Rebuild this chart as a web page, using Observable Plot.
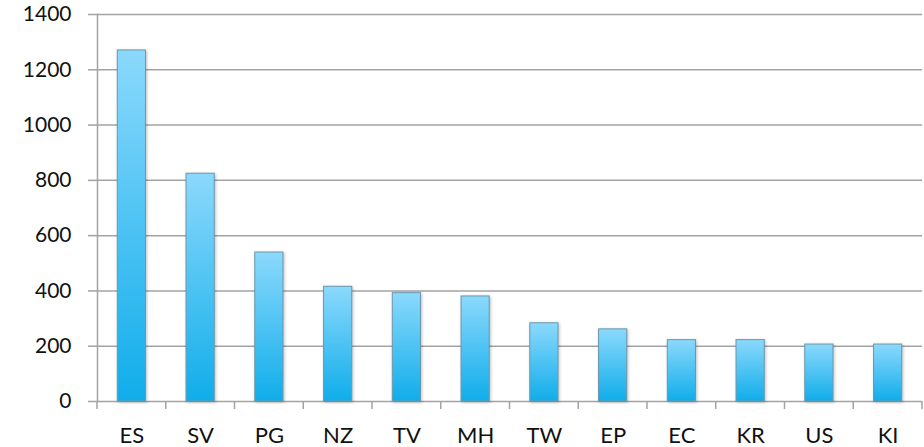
<!DOCTYPE html>
<html>
<head>
<meta charset="utf-8">
<script src="https://cdn.jsdelivr.net/npm/d3@7"></script>
<script src="https://cdn.jsdelivr.net/npm/@observablehq/plot@0.6"></script>
<style>
  html, body { margin: 0; padding: 0; background: #fff; }
  #chart svg { display: block; }
</style>
</head>
<body>
<div id="chart"></div>
<script>
const categories = ["ES", "SV", "PG", "NZ", "TV", "MH", "TW", "EP", "EC", "KR", "US", "KI"];
const values = [1270, 824, 539, 415, 392, 380, 283, 261, 222, 222, 206, 206];
const yTicks = [0, 200, 400, 600, 800, 1000, 1200, 1400];

const data = categories.map((c, i) => ({category: c, value: values[i]}));

const gridColor = "#a3a3a3";

// Band boundary tick marks below the x axis (from the band scale)
const boundaryTicks = (index, scales, vals, dimensions) => {
  const x = scales.x;
  const bw = typeof x.bandwidth === "function" ? x.bandwidth() : (x.bandwidth || 0);
  const step = typeof x.step === "function" ? x.step() : (x(categories[1]) - x(categories[0]));
  const y0 = dimensions.height - dimensions.marginBottom;
  const g = d3.create("svg:g").attr("stroke", gridColor).attr("stroke-width", 1.5);
  const positions = categories.map(c => x(c) - (step - bw) / 2);
  positions.push(x(categories[categories.length - 1]) + bw + (step - bw) / 2);
  for (const px of positions) {
    if (!isFinite(px)) continue;
    g.append("line").attr("x1", px).attr("x2", px).attr("y1", y0).attr("y2", y0 + 8);
  }
  return g.node();
};

const chart = Plot.plot({
  width: 924,
  height: 447,
  marginLeft: 97,
  marginRight: 2,
  marginTop: 14,
  marginBottom: 46,
  style: {fontFamily: "Lato, 'Open Sans', sans-serif", color: "#111", background: "#fff"},
  x: {domain: categories, paddingInner: 0.59, paddingOuter: 0.295, round: false, label: null},
  y: {domain: [0, 1400], label: null},
  marks: [
    Plot.gridY(yTicks, {stroke: gridColor, strokeOpacity: 1, strokeWidth: 1.5}),
    Plot.axisY(yTicks, {tickSize: 9, tickPadding: 17, stroke: gridColor, strokeWidth: 1.5, fontSize: 21, tickFormat: d => String(d), label: null}),
    Plot.frame({anchor: "left", stroke: gridColor, strokeWidth: 1.5, strokeOpacity: 1}),
    Plot.axisX({tickSize: 0, tickPadding: 26, fontSize: 22, label: null}),
    boundaryTicks,
    Plot.barY(data, {x: "category", y: "value", fill: "url(#barGrad)", stroke: "#6b98ad", strokeWidth: 1})
  ]
});

// gradient definition
const svg = d3.select(chart);
const defs = svg.insert("defs", ":first-child");
const grad = defs.append("linearGradient").attr("id", "barGrad")
  .attr("x1", 0).attr("y1", 0).attr("x2", 0).attr("y2", 1);
grad.append("stop").attr("offset", "0%").attr("stop-color", "#8bd9fc");
grad.append("stop").attr("offset", "100%").attr("stop-color", "#10adea");
svg.selectAll("g[aria-label='bar'] rect").style("filter", "drop-shadow(1px 1px 1.5px rgba(0,0,0,0.25))");

document.getElementById("chart").appendChild(chart);
</script>
</body>
</html>
